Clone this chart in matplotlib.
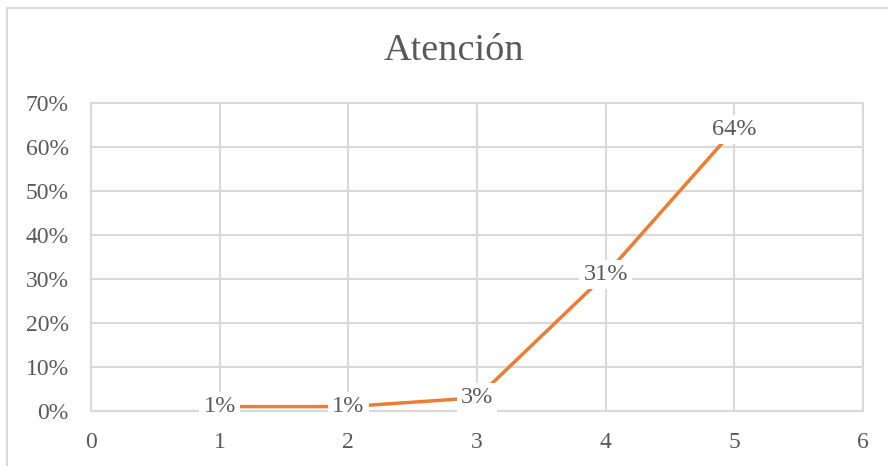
import matplotlib.pyplot as plt
from matplotlib.patches import Rectangle
from matplotlib.ticker import PercentFormatter

# puntaje de la escala y porcentaje de respuestas
puntaje = [1, 2, 3, 4, 5]
porcentaje = [0.01, 0.01, 0.03, 0.31, 0.64]
etiquetas = ['1%', '1%', '3%', '31%', '64%']

plt.rcParams['font.family'] = ['Liberation Serif', 'DejaVu Serif']
gris_txt = '#595959'
gris_red = '#d9d9d9'
naranja = '#ed7d31'

fig = plt.figure(figsize=(8.88, 4.66), dpi=100)
fig.patches.append(Rectangle((7 / 888, -0.1), 1.2, (466 - 8) / 466 + 0.1,
                             transform=fig.transFigure, fill=False,
                             edgecolor=gris_red, linewidth=1.5))

ax = fig.add_axes([91 / 888, 55 / 466, 772 / 888, 308 / 466])
ax.plot(puntaje, porcentaje, color=naranja, linewidth=2.5, solid_capstyle='butt',
        zorder=3)
for x, y, t in zip(puntaje, porcentaje, etiquetas):
    ax.text(x, y, t, ha='center', va='center', fontsize=17.5, color=gris_txt,
            zorder=4, bbox=dict(facecolor='white', edgecolor='none', pad=3))

ax.set_xlim(0, 6)
ax.set_ylim(0, 0.7)
ax.set_xticks(range(0, 7))
ax.set_yticks([i / 10 for i in range(8)])
ax.yaxis.set_major_formatter(PercentFormatter(1.0, decimals=0))
ax.grid(True, color=gris_red, linewidth=1.5)
ax.set_axisbelow(True)
for s in ax.spines.values():
    s.set_color(gris_red)
    s.set_linewidth(1.5)
ax.tick_params(length=0, labelsize=17, labelcolor=gris_txt)
ax.tick_params(axis='y', pad=16)
ax.tick_params(axis='x', pad=15)

fig.text(454 / 888, 1 - 51 / 466, 'Atención', ha='center', va='center',
         fontsize=27.5, color=gris_txt)

fig.savefig('out.png', dpi=100)
